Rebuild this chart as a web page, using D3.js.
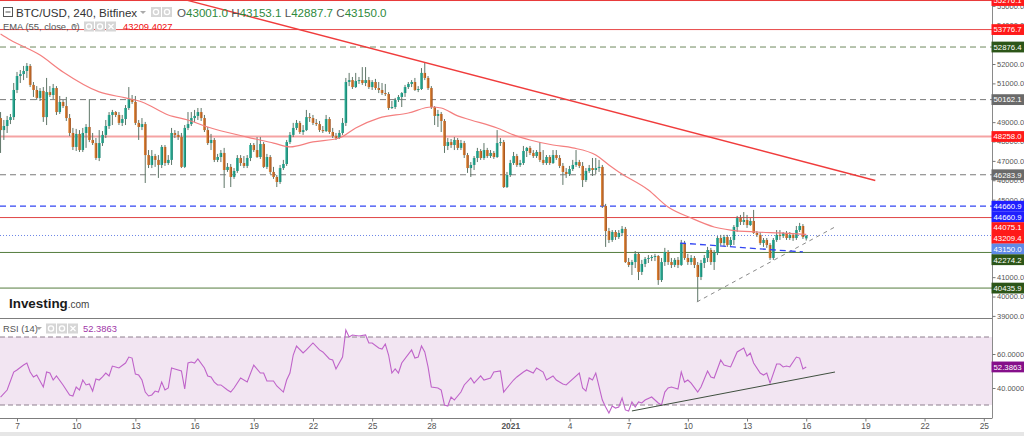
<!DOCTYPE html>
<html><head><meta charset="utf-8">
<script src="https://cdn.jsdelivr.net/npm/d3@7"></script>
<style>
html,body{margin:0;padding:0;background:#fff;}
svg{display:block;font-family:"Liberation Sans",Arial,sans-serif;}
</style></head><body>
<svg id="c" width="1024" height="436"></svg>
<script>
// ---------- DATA (BTC/USD 4h, Bitfinex) ----------
const firstCandle = "2020-12-06T04:00:00Z";
const candleHours = 4;
const opens = [
49210,48590,48800,49110,49260,50660,51380,51480,51640,51900,
50920,50660,50250,50610,49260,50550,50400,50760,49520,50040,
49830,49210,48440,47720,48390,47560,48440,48750,48080,47920,
47150,47920,48340,48800,49370,49520,49370,48960,49160,49730,
50190,50040,48960,48750,48900,47300,46790,47250,47050,46790,
47720,46890,47050,48440,48340,48230,46690,48700,48900,49210,
49320,49520,49210,48590,47920,48080,47050,47200,47410,46530,
46690,46170,46480,47150,46890,46740,47150,47820,47560,47200,
47870,46690,47200,46430,46170,45910,46630,46840,47970,48340,
48700,48960,48490,48590,49260,49210,48960,48900,48590,48540,
49160,48490,48280,48180,48440,48960,51070,51170,50810,51120,
51170,51020,51170,50810,51070,50760,50660,50500,50450,49730,
49780,50140,50300,50500,50810,50970,51070,50660,50710,51540,
51280,50760,49780,49320,49420,49060,47770,47970,47820,48080,
47670,47920,47300,46630,46790,47150,47510,47150,47560,47250,
47410,47200,47920,47970,45650,46270,46890,47250,46790,46890,
47510,47670,47410,47250,47460,47050,46890,47200,46890,47300,
47150,46740,46430,46320,46580,46790,46940,46740,46010,46480,
46630,46530,46630,46690,44670,43380,42920,43330,43070,43280,
43490,41780,41630,41780,42200,41270,41680,41940,41990,42040,
42090,40850,41780,42300,41780,41630,41890,41630,42760,41990,
41780,41990,41630,41010,41730,41990,42400,41780,42250,43020,
42760,43070,42660,42920,43590,44050,43850,43950,43690,43900,
43280,43180,42760,42920,42660,41990,42920,43180,43120,43280,
43020,43180,43020,43430,43640,43001.0];
const highs = [
49520,49110,49320,49420,51020,51590,51690,51900,52050,52000,
51070,50860,50760,50810,51280,50860,50970,50860,50350,50140,
50300,49420,48700,48650,48590,48700,48900,50190,48440,48180,
48590,48540,49110,49520,49630,49570,49520,49370,49880,50810,
50400,50350,49110,49210,49010,47560,47560,47360,47300,47820,
47820,47300,48700,48590,48540,48440,48850,49520,49520,49630,
49730,49730,49370,48750,48390,48180,47360,47560,47670,46890,
46840,46630,47300,47300,47250,47300,47920,47920,48230,48230,
47970,47360,47300,46690,46270,46790,47050,48080,48490,48960,
49110,49060,48850,49630,49470,49370,49160,49060,48800,49370,
49260,48700,48440,48590,49210,51280,51540,51330,51540,51330,
51840,51840,51330,51170,51230,51070,51020,50970,50550,50090,
50250,50400,50550,50920,51070,51170,51280,50860,51790,52100,
51380,50860,49830,49630,49520,49160,48180,48130,48230,48180,
48080,48030,47410,46940,47250,47670,47610,47920,47670,47560,
47510,48590,48180,48080,46430,47050,47460,47360,47050,47770,
47720,47770,47560,47560,47970,47560,47300,47300,47560,47560,
47300,46890,46630,46740,47050,47560,47050,46940,46630,46790,
47150,47150,47050,46790,44780,43540,43430,43430,43430,43640,
43590,41990,41890,42350,42300,41890,42040,42140,42140,42200,
42140,41990,42510,42400,41990,41990,42040,42920,42870,42200,
42140,42090,41780,41890,42140,42560,42510,42400,43120,43180,
43180,43180,43070,43690,44160,44210,44360,44210,44050,44470,
43380,43330,43020,43020,42760,43020,43430,43430,43330,43380,
43330,43280,43640,43800,43740,43153.1];
const lows = [
47410,48080,48440,48900,49110,50500,51020,51170,51280,50810,
50300,50140,50090,49010,48850,50300,50190,49370,49420,49730,
49060,48280,47560,47510,47460,47460,47670,47970,47820,47050,
46990,47770,48180,48650,48850,49260,48850,48800,48850,49630,
49940,48850,48080,48590,45860,46630,46630,46690,46120,46630,
46740,46790,46790,48180,48080,46630,46630,48590,48800,49010,
49110,49060,48490,47820,47560,46940,46940,46940,45600,46430,
45650,46070,46380,46740,46630,46630,46990,47460,47150,47100,
46630,46580,46320,46070,45650,45810,46530,46740,47870,48230,
48590,48390,48340,48540,49010,48850,48800,48490,48440,48490,
48390,48180,48080,48130,48340,48800,50860,50710,50760,50970,
50920,50860,50710,50660,50660,50500,50400,50350,49630,49680,
49680,50040,49780,50300,50710,50810,50610,50550,50660,51170,
50660,49680,48850,48750,48490,47410,47560,47670,47560,47560,
47560,47150,46380,46170,46530,46940,47050,47050,47150,47150,
47100,47150,47770,45600,45600,46170,46790,46690,46690,46790,
47200,47300,47150,47150,46940,46790,46790,46790,46840,47050,
46630,45760,46120,46220,46480,46690,46630,45650,45910,46380,
46220,46320,46430,44570,42560,42760,42820,42920,42970,43120,
41730,41520,41110,41470,40850,41110,41520,41730,41830,41830,
40600,40750,41580,41630,41470,41520,41470,41580,41890,41630,
41630,41470,39720,40850,41470,41780,41630,41370,42140,42660,
42610,42560,42560,42660,43330,43690,43690,43540,43640,43230,
43070,42660,42560,42510,41890,41890,42820,42920,43020,42920,
42920,42870,42920,43330,42970,42887.7];
const closes = [
48590,48800,49110,49260,50660,51380,51480,51640,51900,50920,
50660,50250,50610,49260,50550,50400,50760,49520,50040,49830,
49210,48440,47720,48390,47560,48440,48750,48080,47920,47150,
47920,48340,48800,49370,49520,49370,48960,49160,49730,50190,
50040,48960,48750,48900,47300,46790,47250,47050,46790,47720,
46890,47050,48440,48340,48230,46690,48700,48900,49210,49320,
49520,49210,48590,47920,48080,47050,47200,47410,46530,46690,
46170,46480,47150,46890,46740,47150,47820,47560,47200,47870,
46690,47200,46430,46170,45910,46630,46840,47970,48340,48700,
48960,48490,48590,49260,49210,48960,48900,48590,48540,49160,
48490,48280,48180,48440,48960,51070,51170,50810,51120,51170,
51020,51170,50810,51070,50760,50660,50500,50450,49730,49780,
50140,50300,50500,50810,50970,51070,50660,50710,51540,51280,
50760,49780,49320,49420,49060,47770,47970,47820,48080,47670,
47920,47300,46630,46790,47150,47510,47150,47560,47250,47410,
47200,47920,47970,45650,46270,46890,47250,46790,46890,47510,
47670,47410,47250,47460,47050,46890,47200,46890,47300,47150,
46740,46430,46320,46580,46790,46940,46740,46010,46480,46630,
46530,46630,46690,44670,43380,42920,43330,43070,43280,43490,
41780,41630,41780,42200,41270,41680,41940,41990,42040,42090,
40850,41780,42300,41780,41630,41890,41630,42760,41990,41780,
41990,41630,41010,41730,41990,42400,41780,42250,43020,42760,
43070,42660,42920,43590,44050,43850,43950,43690,43900,43280,
43180,42760,42920,42660,41990,42920,43180,43120,43280,43020,
43180,43020,43430,43640,43070,43150.0];

// EMA(55) readings: [candle index, value]
const emaPoints = [[0,53550],[3,53240],[12,52460],[19,51590],[30,50560],[38,50250],[43,50040],[51,49370],[57,49110],[63,48750],[75,48230],[83,47920],[88,47720],[95,47980],[103,48180],[108,48700],[115,49210],[124,49470],[131,49780],[134,49730],[139,49320],[143,49110],[151,48700],[156,48340],[161,48080],[168,47820],[174,47670],[181,47300],[185,46790],[188,46430],[197,45500],[203,44620],[210,44050],[217,43590],[222,43430],[230,43330],[237,43280],[245,43209.4027]];

// RSI(14) readings: [candle index, value]
const rsiPoints = [[0,34.7],[2,38.8],[4,49.4],[5,50.6],[7,53.5],[8,54.7],[9,49.4],[10,46.5],[11,47.6],[13,40.6],[14,49.4],[15,48.8],[16,44.7],[17,47.1],[19,41.8],[21,35.9],[22,35.3],[23,40.6],[24,38.8],[25,44.7],[26,41.8],[27,42.4],[28,38.2],[29,45.3],[30,44.7],[31,46.5],[32,48.8],[33,47.1],[34,52.9],[35,52.4],[36,51.8],[38,54.7],[39,58.2],[40,57.6],[41,48.2],[42,47.6],[43,44.7],[44,37.6],[45,35.3],[46,35.9],[47,38.2],[48,37.6],[49,43.5],[50,38.8],[51,40],[52,51.8],[53,51.2],[55,50],[56,39.4],[57,54.7],[58,55.3],[59,54.7],[60,57.1],[62,51.8],[63,47.1],[64,46.5],[65,43.5],[66,41.8],[67,41.8],[69,38.8],[70,37.6],[71,40],[73,45.9],[75,43.5],[77,53.5],[79,48.8],[80,48.8],[81,44.1],[83,44.1],[84,41.2],[86,37.6],[87,44.7],[88,48.8],[89,59.4],[90,64.7],[92,60.6],[93,62.4],[95,66.5],[97,62.4],[98,61.2],[100,57.1],[101,56.5],[102,51.2],[103,54.7],[104,58.2],[105,74.1],[106,70],[107,71.2],[109,70.6],[111,71.2],[112,66.5],[113,66.5],[115,63.5],[116,62.9],[117,65.9],[118,59.4],[119,48.8],[120,51.2],[121,48.8],[122,54.7],[125,62.4],[126,57.6],[127,58.2],[128,64.7],[129,61.2],[130,52.4],[131,40.6],[133,40],[134,38.8],[135,30],[136,29.4],[137,34.7],[138,32.9],[140,37.6],[141,41.8],[143,45.9],[144,42.9],[146,47.1],[147,44.7],[149,45.9],[150,49.4],[152,50],[153,37.6],[154,40],[156,44.7],[157,46.5],[159,49.4],[160,50.6],[162,48.8],[163,51.8],[165,49.4],[166,44.7],[168,47.1],[169,44.7],[170,43.5],[171,42.4],[172,41.8],[176,48.8],[177,40],[178,38.2],[179,45.9],[180,44.7],[181,48.8],[183,32.9],[184,28.8],[185,25.3],[186,29.4],[187,28.2],[188,28.8],[189,34.1],[190,27.1],[191,26.5],[192,31.8],[193,28.8],[194,31.8],[195,31.2],[196,32.9],[198,34.7],[200,31.2],[201,30],[202,37.6],[203,40],[204,40.6],[206,39.4],[207,49.4],[208,43.5],[209,44.7],[210,42.9],[212,37.6],[213,40.6],[215,50],[216,46.5],[217,45.9],[219,56.5],[220,53.5],[222,52.4],[224,61.2],[226,63.5],[227,58.8],[228,60.6],[229,54.7],[231,48.8],[232,47.6],[233,48.8],[234,42.9],[236,54.1],[237,54.1],[238,52.4],[239,52.9],[240,52.4],[242,58.2],[243,57.6],[244,51.2],[245,52.3863]];

// horizontal levels drawn on the chart
const levelValues = [55276.1, 53776.7, 52876.4, 50162.1, 48258.0, 46283.9, 44660.9, 44075.1, 43150.0, 42274.2, 40435.9];
// price labels on the right axis
const labelValues = [55276.1, 53776.7, 52876.4, 50162.1, 48258.0, 46283.9, 44660.9, 44660.9, 44075.1, 43209.4, 43150.0, 42274.2, 40435.9];
// drawn trend lines [time, value]
const trendRed  = [["2020-12-15T12:00:00Z",55320],["2021-01-19T12:00:00Z",45990]];
const trendGray = [["2021-01-10T11:00:00Z",39720],["2021-01-17T11:00:00Z",43590]];
const trendBlue = [["2021-01-09T14:30:00Z",42760],["2021-01-15T20:00:00Z",42300]];
const trendRsi  = [["2021-01-07T04:00:00Z",26.5],["2021-01-17T11:00:00Z",49.4]];

const priceTicks = [39000,40000,41000,42000,43000,44000,45000,46000,47000,48000,49000,50000,51000,52000,53000,54000,55000];
const rsiTicks = [40,60];
const rsiBand = [30,70];
const dayTicks = ["2020-12-07","2020-12-10","2020-12-13","2020-12-16","2020-12-19","2020-12-22","2020-12-25","2020-12-28","2021-01-01","2021-01-04","2021-01-07","2021-01-10","2021-01-13","2021-01-16","2021-01-19","2021-01-22","2021-01-25"];
const dayLabels = ["7","10","13","16","19","22","25","28","2021","4","7","10","13","16","19","22","25"];

// ---------- STYLES ----------
const levelStyle = [
  {c:"#e83838",w:1,d:null},{c:"#e84848",w:1,d:null},{c:"#6f8a5e",w:1,d:"6,4"},
  {c:"#7a7a7a",w:1,d:"6,4"},{c:"#f5a3a3",w:2,d:null},{c:"#7a7a7a",w:1,d:"6,4"},
  {c:"#3346f2",w:1.3,d:"6,4"},{c:"#e04646",w:1,d:null},{c:"#6d86e6",w:1,d:"1,2"},
  {c:"#557d3e",w:1,d:null},{c:"#557d3e",w:1,d:null}];
const labelColor = ["#ff1a1a","#ff1a1a","#2c5518","#6a6a6a","#ff1a1a","#6a6a6a","#1f1fff","#1f1fff","#ff1a1a","#ff1a1a","#5f8ae8","#2c5518","#2c5518"];

// ---------- SCALES ----------
const W = 1024, AX = 992, MAIN_B = 318, RSI_B = 418;
const svg = d3.select("#c");
const t0 = new Date(firstCandle).getTime();
const tAt = i => new Date(t0 + i*candleHours*3600e3);
const x = d3.scaleUtc().domain([new Date("2020-12-07T00:00:00Z"), new Date("2021-01-25T00:00:00Z")]).range([17, 983.8]);
const y = d3.scaleLinear().domain([39000, 52000]).range([315.9, 64]);
const yr = d3.scaleLinear().domain([30, 70]).range([405, 337]);

const defs = svg.append("defs");
defs.append("clipPath").attr("id","cm").append("rect").attr("x",0).attr("y",0).attr("width",AX).attr("height",MAIN_B);
defs.append("clipPath").attr("id","cr").append("rect").attr("x",0).attr("y",MAIN_B+1).attr("width",AX).attr("height",RSI_B-MAIN_B-1);
function grad(id, a, b){
  const g = defs.append("linearGradient").attr("id",id).attr("x1",0).attr("x2",1).attr("y1",0).attr("y2",0);
  g.append("stop").attr("offset","0%").attr("stop-color",a);
  g.append("stop").attr("offset","100%").attr("stop-color",b);
}
grad("gUp","#37b9a2","#13806c");
grad("gDn","#e88e3c","#9c4b19");

svg.append("rect").attr("width",W).attr("height",436).attr("fill","#fff");

// ---------- MAIN PANE ----------
const main = svg.append("g").attr("clip-path","url(#cm)");
levelValues.forEach((v,k)=>{
  const s = levelStyle[k];
  main.append("line").attr("x1",0).attr("x2",AX).attr("y1",y(v)).attr("y2",y(v))
    .attr("stroke",s.c).attr("stroke-width",s.w).attr("stroke-dasharray",s.d);
});

const idx = d3.range(closes.length);
const cw = 2.6;
const cg = main.append("g");
cg.selectAll("line.w").data(idx).join("line").attr("class","w")
  .attr("x1",i=>x(tAt(i))).attr("x2",i=>x(tAt(i)))
  .attr("y1",i=>y(highs[i])).attr("y2",i=>y(lows[i]))
  .attr("stroke","#5f7668").attr("stroke-width",1);
cg.selectAll("rect.b").data(idx).join("rect").attr("class","b")
  .attr("x",i=>x(tAt(i))-cw/2).attr("width",cw)
  .attr("y",i=>Math.min(y(opens[i]),y(closes[i])))
  .attr("height",i=>Math.max(1,Math.abs(y(opens[i])-y(closes[i]))))
  .attr("fill",i=>closes[i]>=opens[i]?"url(#gUp)":"url(#gDn)");

main.append("path").datum(emaPoints)
  .attr("d", d3.line().x(d=>x(tAt(d[0]))).y(d=>y(d[1])).curve(d3.curveMonotoneX))
  .attr("fill","none").attr("stroke","#f47f7f").attr("stroke-width",1.2);

function tl(g, pts, sc, color, w, dash){
  g.append("line").attr("x1",x(new Date(pts[0][0]))).attr("y1",sc(pts[0][1]))
   .attr("x2",x(new Date(pts[1][0]))).attr("y2",sc(pts[1][1]))
   .attr("stroke",color).attr("stroke-width",w).attr("stroke-dasharray",dash);
}
tl(main, trendRed, y, "#f03c3c", 1.4, null);
tl(main, trendGray, y, "#8a8a8a", 1, "4,4");
tl(main, trendBlue, y, "#3346f2", 1.3, "6,4");

// ---------- RSI PANE ----------
const rp = svg.append("g").attr("clip-path","url(#cr)");
rp.append("rect").attr("x",0).attr("width",AX).attr("y",yr(rsiBand[1])).attr("height",yr(rsiBand[0])-yr(rsiBand[1])).attr("fill","#f2e5f2");
rsiBand.forEach(v=>rp.append("line").attr("x1",0).attr("x2",AX).attr("y1",yr(v)).attr("y2",yr(v))
  .attr("stroke","#8e7f8e").attr("stroke-dasharray","5,3"));
rp.append("path").datum(rsiPoints)
  .attr("d", d3.line().x(d=>x(tAt(d[0]))).y(d=>yr(d[1])))
  .attr("fill","none").attr("stroke","#bf63c9").attr("stroke-width",1.1);
tl(rp, trendRsi, yr, "#3f4f3f", 1, null);

// ---------- FRAME / AXES ----------
svg.append("line").attr("x1",0).attr("x2",AX).attr("y1",MAIN_B+0.5).attr("y2",MAIN_B+0.5).attr("stroke","#7d7d7d");
svg.append("line").attr("x1",0).attr("x2",AX).attr("y1",RSI_B+0.5).attr("y2",RSI_B+0.5).attr("stroke","#7d7d7d");
svg.append("line").attr("x1",AX+0.5).attr("x2",AX+0.5).attr("y1",0).attr("y2",RSI_B+0.5).attr("stroke","#8a8a8a");
svg.append("rect").attr("x",0).attr("y",432).attr("width",W).attr("height",4).attr("fill","#e6e6e6");

// right-axis value label positions, stacked to avoid overlap
const lab = labelValues.map((v,k)=>({v,k,py:y(v)})).sort((a,b)=>a.py-b.py);
for(let j=1;j<lab.length;j++) if(lab[j].py < lab[j-1].py+10.7) lab[j].py = lab[j-1].py+10.7;
const covered = v => lab.some(o=>Math.abs(o.py - y(v)) < 4);

const TICKFS = "7.5px";
const ay = svg.append("g").attr("transform",`translate(${AX+0.5},0)`)
  .call(d3.axisRight(y).tickValues(priceTicks.filter(v=>!covered(v))).tickFormat(d3.format(".1f")).tickSize(3).tickPadding(1.5));
ay.select(".domain").remove();
ay.selectAll("line").attr("stroke","#777");
ay.selectAll("text").attr("fill","#555").style("font-size",TICKFS);

const ayr = svg.append("g").attr("transform",`translate(${AX+0.5},0)`)
  .call(d3.axisRight(yr).tickValues(rsiTicks).tickFormat(d3.format(".4f")).tickSize(3).tickPadding(1.5));
ayr.select(".domain").remove();
ayr.selectAll("line").attr("stroke","#777");
ayr.selectAll("text").attr("fill","#555").style("font-size",TICKFS);

const ax = svg.append("g").attr("transform",`translate(0,${RSI_B+0.5})`)
  .call(d3.axisBottom(x).tickValues(dayTicks.map(s=>new Date(s+"T00:00:00Z"))).tickFormat((d,k)=>dayLabels[k]).tickSize(3).tickPadding(2));
ax.select(".domain").remove();
ax.selectAll("line").attr("stroke","#777");
ax.selectAll("text").attr("fill","#555").style("font-size","8.4px")
  .style("font-weight",(d,k)=>dayLabels[k]==="2021"?"bold":"normal");

const lg = svg.append("g");
const LABFS = "7.8px";
lab.forEach(o=>{
  lg.append("rect").attr("x",AX-0.5).attr("y",o.py-5.4).attr("width",W-AX+1).attr("height",10.8).attr("fill",labelColor[o.k]);
  lg.append("text").attr("x",AX+1.5).attr("y",o.py+2.8).attr("fill","#fff").style("font-size",LABFS).text(d3.format(".1f")(o.v));
});
const rsiLast = rsiPoints[rsiPoints.length-1][1];
lg.append("rect").attr("x",AX-0.5).attr("y",yr(rsiLast)-5.4).attr("width",W-AX+1).attr("height",10.8).attr("fill","#850f8a");
lg.append("text").attr("x",AX+1.5).attr("y",yr(rsiLast)+2.8).attr("fill","#fff").style("font-size",LABFS).text(d3.format(".4f")(rsiLast));

// ---------- HEADER TEXT ----------
function icons(g, x0, yc, n){
  for(let k=0;k<n;k++){
    const gx = x0 + k*11;
    g.append("rect").attr("x",gx).attr("y",yc-5).attr("width",10).attr("height",10).attr("fill","#d6d6d6");
    if(k===n-1 && n===3){
      g.append("path").attr("d",`M${gx+2.5},${yc-2.5}L${gx+7.5},${yc+2.5}M${gx+7.5},${yc-2.5}L${gx+2.5},${yc+2.5}`).attr("stroke","#fff").attr("stroke-width",1.3);
    } else {
      g.append("circle").attr("cx",gx+5).attr("cy",yc).attr("r",2.6).attr("fill","none").attr("stroke","#fff").attr("stroke-width",1.3);
    }
  }
}
const hd = svg.append("g");
hd.append("rect").attr("x",3.5).attr("y",7.5).attr("width",9).attr("height",9).attr("fill","#fff").attr("stroke","#555");
hd.append("line").attr("x1",5.5).attr("x2",10.5).attr("y1",12).attr("y2",12).attr("stroke","#555");
hd.append("text").attr("x",16).attr("y",16.5).attr("fill","#333").style("font-size","11.6px").text("BTC/USD, 240, Bitfinex");
hd.append("path").attr("d","M140,11l3,3l3,-3z").attr("fill","#aaa");
icons(hd, 151, 12, 2);
const ohlc = hd.append("text").attr("x",177).attr("y",16.5).style("font-size","11.6px");
[["O",opens],["H",highs],["L",lows],["C",closes]].forEach(([k,arr],j)=>{
  ohlc.append("tspan").attr("fill","#555").text((j?" ":"")+k);
  ohlc.append("tspan").attr("fill","#2e8a3c").text(d3.format(".1f")(arr[arr.length-1]));
});
hd.append("text").attr("x",3).attr("y",30).attr("fill","#555").style("font-size","9.4px").text("EMA (55, close, 0)");
hd.append("path").attr("d","M72,25l3,3l3,-3z").attr("fill","#aaa");
icons(hd, 84, 26.5, 3);
hd.append("text").attr("x",123).attr("y",30).attr("fill","#f01010").style("font-size","9.4px").text(d3.format(".4f")(emaPoints[emaPoints.length-1][1]));

hd.append("text").attr("x",3).attr("y",332).attr("fill","#555").style("font-size","9.4px").text("RSI (14)");
hd.append("path").attr("d","M36,327l3,3l3,-3z").attr("fill","#aaa");
icons(hd, 46, 328.5, 3);
hd.append("text").attr("x",83).attr("y",332).attr("fill","#a036a8").style("font-size","9.4px").text(d3.format(".4f")(rsiLast));

// logo
const lgo = hd.append("text").attr("x",9).attr("y",308);
lgo.append("tspan").attr("fill","#1a1a1a").style("font-size","13.4px").style("font-weight","bold").text("Investing");
lgo.append("tspan").attr("fill","#444").style("font-size","10px").text(".com");
</script>
</body></html>
